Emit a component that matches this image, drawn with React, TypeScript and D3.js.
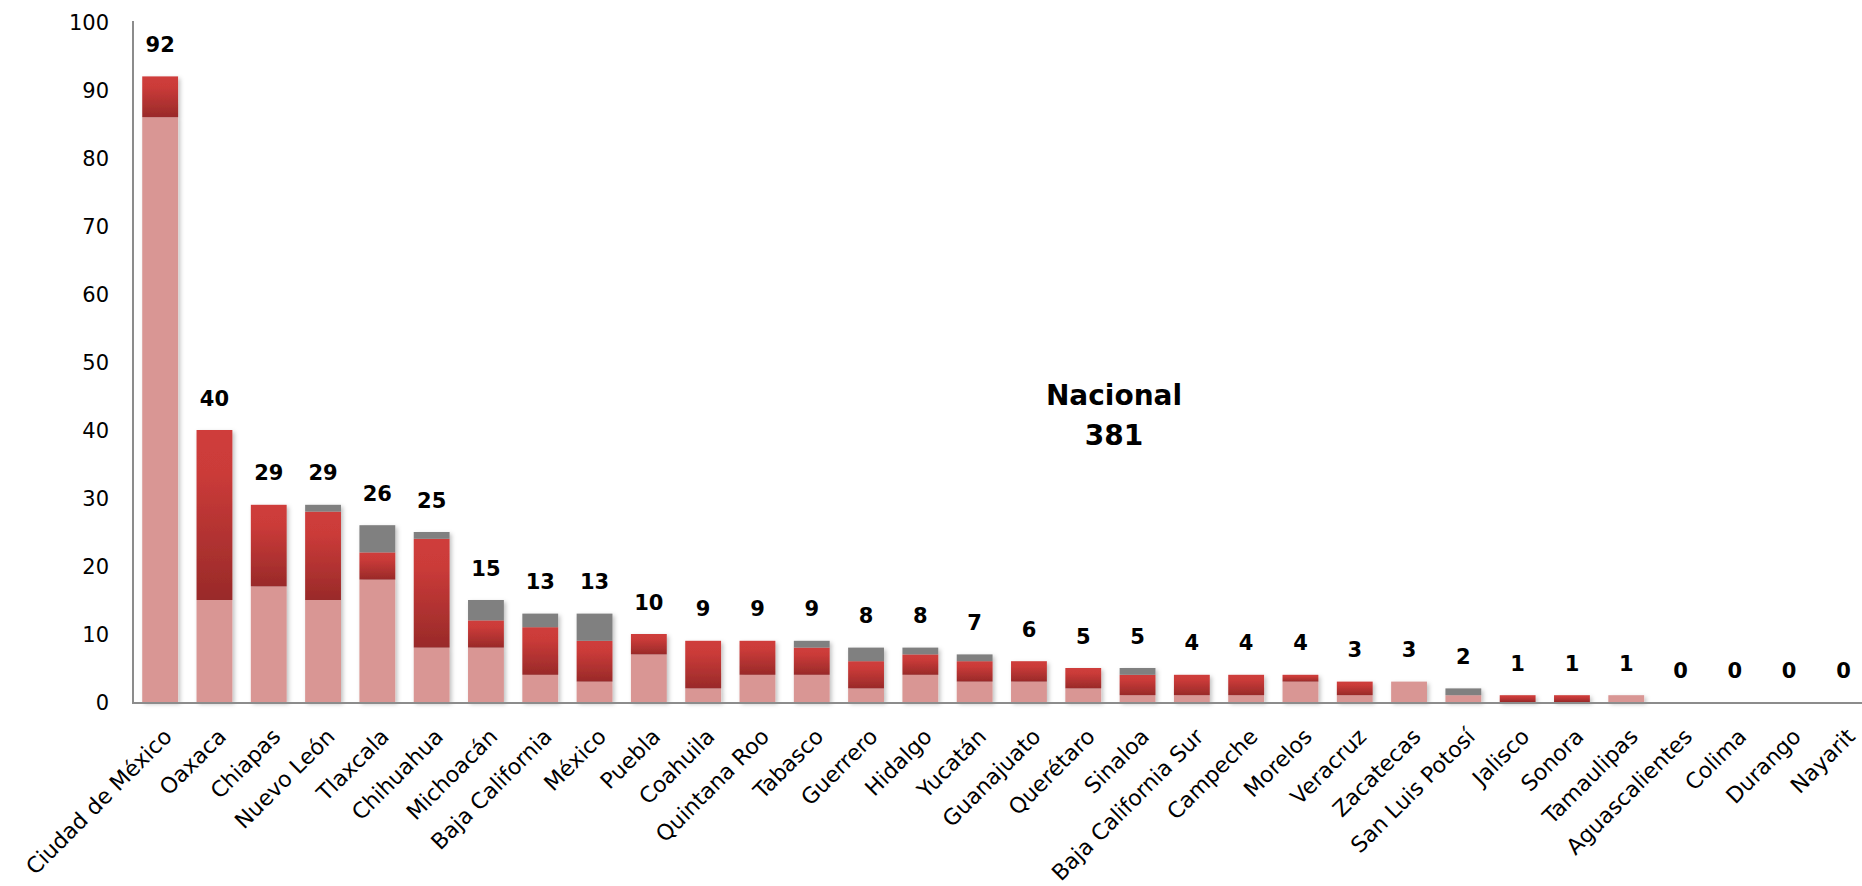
import React from "react";
import * as d3 from "d3";

const states = ["Ciudad de México","Oaxaca","Chiapas","Nuevo León","Tlaxcala","Chihuahua","Michoacán","Baja California","México","Puebla","Coahuila","Quintana Roo","Tabasco","Guerrero","Hidalgo","Yucatán","Guanajuato","Querétaro","Sinaloa","Baja California Sur","Campeche","Morelos","Veracruz","Zacatecas","San Luis Potosí","Jalisco","Sonora","Tamaulipas","Aguascalientes","Colima","Durango","Nayarit"];
const pinkVals = [86,15,17,15,18,8,8,4,3,7,2,4,4,2,4,3,3,2,1,1,1,3,1,3,1,0,0,1,0,0,0,0];
const redVals =  [6,25,12,13,4,16,4,7,6,3,7,5,4,4,3,3,3,3,3,3,3,1,2,0,0,1,1,0,0,0,0,0];
const grayVals = [0,0,0,1,4,1,3,2,4,0,0,0,1,2,1,1,0,0,1,0,0,0,0,0,1,0,0,0,0,0,0,0];
const yTicks = [0,10,20,30,40,50,60,70,80,90,100];
const nationalTitle = "Nacional";
const nationalTotal = 381;

const W = 1862, H = 886;
const X0 = 133, STEP = 54.3;

export default function App() {
  const x = d3.scaleBand<string>().domain(states).range([X0, X0 + STEP * states.length]).paddingInner(0.34).paddingOuter(0.17);
  const y = d3.scaleLinear().domain([0, 100]).range([702, 22]);
  const series = ["pink", "red", "gray"];
  const rows = states.map((s, i) => ({ state: s, pink: pinkVals[i], red: redVals[i], gray: grayVals[i] }));
  const stacked = d3.stack<any>().keys(series)(rows);
  const fills: Record<string, string> = { pink: "#D99694", red: "url(#redGrad)", gray: "#808080" };
  const font = "'DejaVu Sans', sans-serif";
  return (
    <svg width={W} height={H} style={{ position: "absolute", left: 0, top: 0 }}>
      <defs>
        <linearGradient id="redGrad" x1="0" y1="0" x2="0" y2="1">
          <stop offset="0" stopColor="#CF3D3B" />
          <stop offset="0.25" stopColor="#CB3B39" />
          <stop offset="1" stopColor="#992A29" />
        </linearGradient>
        <filter id="shadow" x="-20%" y="-20%" width="140%" height="140%">
          <feDropShadow dx="2" dy="2" stdDeviation="2" floodColor="#000" floodOpacity="0.25" />
        </filter>
      </defs>
      <rect width={W} height={H} fill="#fff" />
      {yTicks.map(t => (
        <text key={t} x={109} y={y(t)} dy="0.36em" textAnchor="end" fontFamily={font} fontSize={21} fill="#000">{t}</text>
      ))}
      <g filter="url(#shadow)">
        {stacked.map(layer => (
          <g key={layer.key}>
            {layer.map((d, i) => d[1] - d[0] > 0 ? (
              <rect key={i} x={x(states[i])} width={x.bandwidth()} y={y(d[1])} height={y(d[0]) - y(d[1])} fill={fills[layer.key]} />
            ) : null)}
          </g>
        ))}
      </g>
      <line x1={X0} x2={X0} y1={21} y2={703} stroke="#8C8C8C" strokeWidth={2} />
      <line x1={X0 - 1} x2={W} y1={703} y2={703} stroke="#8C8C8C" strokeWidth={2} />
      {rows.map((r) => {
        const tot = r.pink + r.red + r.gray;
        const cx = (x(r.state) as number) + x.bandwidth() / 2;
        return (
          <text key={r.state} x={cx} y={y(tot) - 32} dy="0.36em" textAnchor="middle" fontFamily={font} fontWeight="bold" fontSize={21} fill="#000">{tot}</text>
        );
      })}
      {states.map(s => {
        const cx = (x(s) as number) + x.bandwidth() / 2;
        return (
          <text key={s} transform={`translate(${cx + 13},${738}) rotate(-45)`} textAnchor="end" fontFamily={font} fontSize={22} fill="#000">{s}</text>
        );
      })}
      <text x={1114} y={395} dy="0.36em" textAnchor="middle" fontFamily={font} fontWeight="bold" fontSize={28} fill="#000">{nationalTitle}</text>
      <text x={1114} y={435} dy="0.36em" textAnchor="middle" fontFamily={font} fontWeight="bold" fontSize={28} fill="#000">{nationalTotal}</text>
    </svg>
  );
}
